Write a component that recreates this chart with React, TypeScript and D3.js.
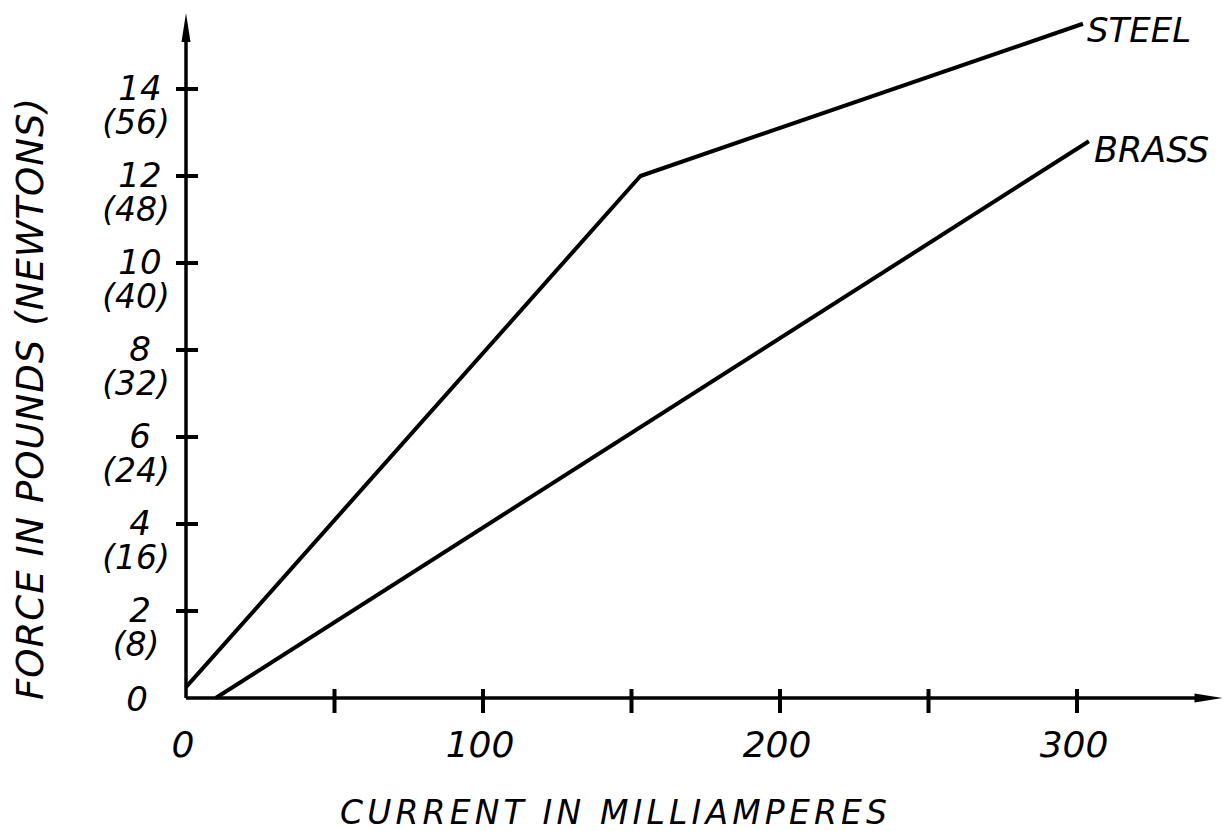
import React from "react";
import * as d3 from "d3";

const steelX = [0, 153, 302];
const steelY = [0.25, 12, 15.5];
const brassX = [10, 304];
const brassY = [0, 12.8];

const xTicks = [50, 100, 150, 200, 250, 300];
const xTickLabels = ["0", "100", "200", "300"];
const xTickLabelValues = [0, 100, 200, 300];
const yTicks = [2, 4, 6, 8, 10, 12, 14];
const yTickLabels = ["2", "4", "6", "8", "10", "12", "14"];
const yTickNewtons = ["(8)", "(16)", "(24)", "(32)", "(40)", "(48)", "(56)"];

const xMaxArrow = 349;
const yMaxArrow = 15.75;

const FONT = "'DejaVu Sans', Verdana, sans-serif";

export default function App() {
  const W = 1226;
  const H = 831;
  const x = d3.scaleLinear().domain([0, 300]).range([186, 1077]);
  const y = d3.scaleLinear().domain([0, 14]).range([698, 89]);
  const line = d3
    .line<[number, number]>()
    .x((d) => x(d[0]))
    .y((d) => y(d[1]));
  const steel: [number, number][] = steelX.map((v, i) => [v, steelY[i]]);
  const brass: [number, number][] = brassX.map((v, i) => [v, brassY[i]]);

  const x0 = x(0);
  const y0 = y(0);
  const xTip = x(xMaxArrow);
  const yTip = y(yMaxArrow);

  const textStyle: React.CSSProperties = {
    fontFamily: FONT,
    fontStyle: "italic",
    fill: "#000",
  };

  return (
    <svg
      width={W}
      height={H}
      style={{ position: "absolute", left: 0, top: 0, background: "#fff" }}
    >
      <rect width={W} height={H} fill="#fff" />
      {/* axes */}
      <line x1={x0} y1={y0} x2={xTip - 20} y2={y0} stroke="#000" strokeWidth={3.5} />
      <path
        d={`M${xTip - 28},${y0 - 4.5} L${xTip},${y0} L${xTip - 28},${y0 + 4.5} Z`}
        fill="#000"
      />
      <line x1={x0} y1={y0} x2={x0} y2={yTip + 20} stroke="#000" strokeWidth={3.5} />
      <path
        d={`M${x0 - 4.5},${yTip + 29} L${x0},${yTip} L${x0 + 4.5},${yTip + 29} Z`}
        fill="#000"
      />
      {/* x ticks */}
      {xTicks.map((t) => (
        <line
          key={"xt" + t}
          x1={x(t)}
          x2={x(t)}
          y1={y0 - 9}
          y2={y0 + 15}
          stroke="#000"
          strokeWidth={4}
        />
      ))}
      {xTickLabelValues.map((t, i) => (
        <text
          key={"xl" + t}
          x={x(t) - 3}
          y={757}
          textAnchor="middle"
          fontSize={36}
          style={textStyle}
        >
          {xTickLabels[i]}
        </text>
      ))}
      {/* y ticks */}
      {yTicks.map((t) => (
        <line
          key={"yt" + t}
          x1={x0 - 10}
          x2={x0 + 12}
          y1={y(t)}
          y2={y(t)}
          stroke="#000"
          strokeWidth={4}
        />
      ))}
      {yTicks.map((t, i) => (
        <g key={"yl" + t}>
          <text
            x={140}
            y={y(t) + 11}
            textAnchor="middle"
            fontSize={34}
            style={textStyle}
          >
            {yTickLabels[i]}
          </text>
          <text
            x={136}
            y={y(t) + 45}
            textAnchor="middle"
            fontSize={33}
            style={textStyle}
          >
            {yTickNewtons[i]}
          </text>
        </g>
      ))}
      <text
        x={137}
        y={y(0) + 13}
        textAnchor="middle"
        fontSize={34}
        style={textStyle}
      >
        0
      </text>
      {/* lines */}
      <path
        d={line(steel) || ""}
        fill="none"
        stroke="#000"
        strokeWidth={4}
        strokeLinejoin="round"
      />
      <path
        d={line(brass) || ""}
        fill="none"
        stroke="#000"
        strokeWidth={4}
        strokeLinejoin="round"
      />
      <text x={x(302) + 4} y={42} fontSize={34} style={textStyle}>
        STEEL
      </text>
      <text x={x(304) + 5} y={162} fontSize={35} style={textStyle}>
        BRASS
      </text>
      {/* axis titles */}
      <text
        x={340}
        y={824}
        fontSize={33}
        textLength={547}
        lengthAdjust="spacing"
        style={textStyle}
      >
        CURRENT IN MILLIAMPERES
      </text>
      <text
        transform={`translate(43, 700) rotate(-90)`}
        fontSize={37}
        textLength={602}
        lengthAdjust="spacing"
        style={textStyle}
      >
        FORCE IN POUNDS (NEWTONS)
      </text>
    </svg>
  );
}
